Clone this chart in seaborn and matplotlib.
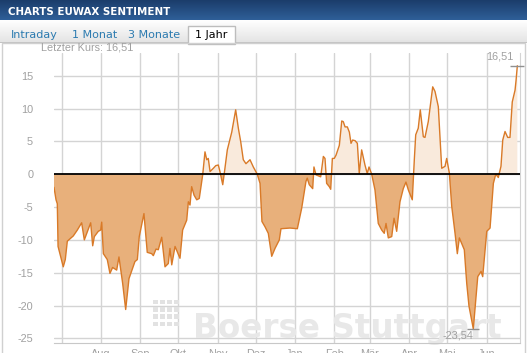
import numpy as np
import pandas as pd
import seaborn as sns
import matplotlib.pyplot as plt
import matplotlib.dates as mdates
from matplotlib.colors import LinearSegmentedColormap
from matplotlib.patches import Rectangle

# data: days after the first point, sentiment value
start = '2012-06-25'
day = [0.0, 1.6, 2.6, 3.2, 7.3, 8.9, 10.5, 15.2, 18.4, 21.8,
       23.9, 28.9, 30.5, 31.8, 34.9, 36.8, 37.6, 38.9, 42.0, 44.1,
       46.2, 49.4, 51.2, 54.1, 56.5, 59.1, 63.8, 65.7, 67.2, 70.9,
       73.5, 77.0, 78.3, 80.4, 82.2, 84.9, 87.5, 90.1, 91.4, 92.8,
       95.4, 99.3, 101.4, 104.6, 105.9, 107.2, 108.5, 110.4, 112.5, 114.5,
       117.2, 119.0, 120.4, 121.6, 123.0, 125.6, 127.5, 129.5, 130.8, 133.0,
       134.2, 136.6, 140.1, 143.2, 145.3, 147.2, 149.2, 151.3, 154.5, 157.1,
       160.2, 162.4, 163.9, 166.3, 168.9, 171.6, 174.2, 177.6, 178.9, 186.0,
       191.8, 195.2, 198.6, 199.6, 201.2, 203.9, 204.9, 206.5, 210.2, 212.3,
       213.6, 214.9, 217.0, 218.1, 219.4, 220.9, 222.3, 224.9, 226.8, 228.0,
       229.4, 231.2, 232.8, 234.1, 235.4, 237.3, 239.1, 240.6, 242.5, 245.1,
       246.9, 248.3, 250.4, 253.0, 255.6, 258.3, 260.3, 261.7, 263.5, 266.2,
       268.0, 270.1, 272.7, 275.3, 277.4, 279.3, 282.4, 284.0, 285.1, 287.1,
       288.7, 291.1, 292.4, 295.0, 298.5, 300.3, 302.9, 305.6, 308.2, 309.5,
       311.6, 313.5, 316.1, 317.9, 319.5, 323.4, 325.3, 327.1, 330.5, 334.0,
       336.6, 337.9, 341.1, 343.7, 346.3, 348.2, 350.2, 352.3, 353.7, 355.5,
       357.6, 359.4, 361.2, 363.4, 364.2, 365.2]
sentiment = [-2.0, -3.9, -4.5, -11.0, -14.1, -13.0, -10.2, -9.4, -8.5, -7.4,
             -10.0, -7.4, -10.9, -9.5, -8.7, -8.5, -7.3, -12.1, -13.0, -15.1,
             -14.2, -14.6, -12.6, -16.6, -20.6, -15.9, -13.3, -13.0, -9.5, -6.0,
             -11.9, -12.1, -12.4, -11.4, -11.5, -9.6, -14.1, -13.6, -11.3, -13.8,
             -11.0, -12.8, -8.5, -7.0, -4.2, -4.7, -1.9, -3.2, -3.9, -3.7,
             -0.1, 3.4, 2.2, 2.4, 0.4, 0.9, 1.3, 1.4, 0.4, -1.6,
             0.1, 3.7, 6.4, 9.8, 7.0, 4.9, 2.2, 1.6, 2.2, 1.1,
             0.0, -1.4, -7.2, -8.0, -9.0, -12.5, -11.3, -10.0, -8.3, -8.2,
             -8.3, -5.2, -1.1, -0.6, -1.6, -2.2, 1.1, -0.1, -0.4, 2.7,
             2.4, -1.4, -1.9, -2.3, 2.4, 2.4, 2.9, 4.4, 8.1, 8.0,
             7.2, 7.2, 6.4, 4.7, 5.2, 5.1, 4.7, 0.1, 3.7, 1.4,
             0.1, 1.1, 0.0, -2.4, -7.5, -8.5, -9.0, -7.5, -9.7, -9.5,
             -6.7, -8.7, -4.2, -2.2, -1.2, -2.4, -3.9, 2.2, 6.0, 7.0,
             9.8, 5.7, 5.6, 8.0, 13.3, 12.6, 10.3, 0.9, 1.2, 2.4,
             0.2, -4.9, -9.0, -12.1, -9.7, -11.5, -16.6, -20.1, -23.54, -15.6,
             -14.8, -15.6, -8.7, -8.2, -1.4, 0.0, -0.5, 1.2, 5.2, 6.5,
             5.6, 5.6, 11.0, 12.8, 14.3, 16.51]

month_starts = ['2012-07-01', '2012-08-01', '2012-09-01', '2012-10-01', '2012-11-01', '2012-12-01',
                '2013-01-01', '2013-02-01', '2013-03-01', '2013-04-01', '2013-05-01', '2013-06-01']
month_labels = ['', 'Aug', 'Sep', 'Okt', 'Nov', 'Dez', 'Jan', 'Feb', 'Mär', 'Apr', 'Mai', 'Jun']
y_ticks = [-25, -20, -15, -10, -5, 0, 5, 10, 15]
tabs = ['Intraday', '1 Monat', '3 Monate']
last_value = '16,51'
min_value = '-23,54'

dates = pd.Timestamp(start) + pd.to_timedelta(day, unit='D')
df = pd.DataFrame({'x': mdates.date2num(dates), 'v': sentiment})

sns.set_style('white')
W, H = 527, 353
fig = plt.figure(figsize=(W / 100, H / 100), dpi=100)
fig.patch.set_facecolor('white')

gray = '#a0a0a0'
font = 'Liberation Sans'

# header bar
hax = fig.add_axes([0, 1 - 20 / H, 1, 20 / H])
grad = np.linspace(0, 1, 50).reshape(-1, 1)
hax.imshow(grad, aspect='auto', extent=[0, 1, 0, 1],
           cmap=LinearSegmentedColormap.from_list('h', ['#1b3d6b', '#2f5f98']))
hax.axis('off')
fig.text(8 / W, 1 - 12 / H, 'CHARTS EUWAX SENTIMENT', color='white', fontsize=7.4,
         fontweight='bold', family='DejaVu Sans', va='center')

# tab bar
tax = fig.add_axes([0, 1 - 43 / H, 1, 23 / H])
tax.imshow(grad, aspect='auto', extent=[0, 1, 0, 1],
           cmap=LinearSegmentedColormap.from_list('t', ['#ffffff', '#e3e3e3']))
tax.axhline(0.02, color='#bdbdbd', lw=1.2)
tax.axis('off')
for label, xp in zip(tabs, [11, 72, 128]):
    fig.text(xp / W, 1 - 34.5 / H, label, color='#2c7bb0', fontsize=8, family='DejaVu Sans', va='center')
fig.patches.append(Rectangle((188 / W, 1 - 43.5 / H), 47 / W, 17.5 / H, transform=fig.transFigure,
                             facecolor='white', edgecolor='#bdbdbd', lw=1, zorder=2))
fig.text(195 / W, 1 - 34.5 / H, '1 Jahr', color='black', fontsize=8, family='DejaVu Sans',
         va='center', zorder=3)

# panel border
fig.patches.append(Rectangle((2 / W, -0.01), 523 / W, 1 - 43 / H + 0.01, transform=fig.transFigure,
                             facecolor='none', edgecolor='#d0d0d0', lw=1, zorder=2))

fig.text(41 / W, 1 - 48 / H, 'Letzter Kurs: ' + last_value, color=gray, fontsize=7.8,
         family=font, va='center')

# chart
ax = fig.add_axes([54 / W, 1 - 343 / H, (520 - 54) / W, (343 - 53) / H])
x = df['x'].to_numpy()
v = df['v'].to_numpy()
ax.fill_between(x, v, 0, where=v >= 0, interpolate=True, color='#f9eadc', lw=0, zorder=2)
ax.fill_between(x, v, 0, where=v <= 0, interpolate=True, color='#e8b07b', lw=0, zorder=2)
sns.lineplot(data=df, x='x', y='v', ax=ax, color='#d97a28', lw=1, sort=False, zorder=3)
ax.axhline(0, color='black', lw=1.3, zorder=4)

x0 = mdates.date2num(pd.Timestamp(start))
ax.set_xlim(x0, x0 + 367.3)
ax.set_ylim(-25.7, 18.45)
ax.set_yticks(y_ticks)
ax.set_yticklabels([str(t) for t in y_ticks])
ax.set_xticks(mdates.date2num(pd.to_datetime(month_starts)))
ax.set_xticklabels(month_labels)
ax.grid(True, color='#d4d4d4', lw=1, zorder=0)
ax.set_axisbelow(True)
ax.tick_params(axis='y', length=0, pad=15, labelsize=7.8, labelcolor=gray)
ax.tick_params(axis='x', length=4, width=1, color='#c8c8c8', pad=0.5, labelsize=7.8, labelcolor=gray)
for t in ax.get_xticklabels() + ax.get_yticklabels():
    t.set_family(font)
for s in ['top', 'left']:
    ax.spines[s].set_visible(False)
ax.spines['bottom'].set_color('#c8c8c8')
ax.spines['right'].set_color('#d4d4d4')
ax.set_xlabel('')
ax.set_ylabel('')

# watermark
ax.text(0.299, 0.017, 'Boerse Stuttgart', transform=ax.transAxes, fontsize=23.5, fontweight='bold',
        family='DejaVu Sans', color='#e8e8e8', zorder=1, va='baseline')
for i in range(4):
    for j in range(4):
        ax.add_patch(Rectangle((0.213 + i * 0.015, 0.058 + j * 0.025), 0.01, 0.016,
                               transform=ax.transAxes, color='#e2e2e2', lw=0, zorder=1))

# max / min markers
imax = int(np.argmax(v))
imin = int(np.argmin(v))
ax.plot(x[imax], v[imax], marker='_', ms=10, mew=1, color='#909090', zorder=5, clip_on=False)
ax.annotate(last_value, (x[imax], v[imax]), xytext=(-3, 3), textcoords='offset points',
            ha='right', va='bottom', color=gray, fontsize=7.8, family=font)
ax.plot(x[imin], v[imin], marker='_', ms=8, mew=1, color='#909090', zorder=5)
ax.annotate(min_value, (x[imin], v[imin]), xytext=(0, -1.5), textcoords='offset points',
            ha='right', va='top', color=gray, fontsize=7.8, family=font)

fig.savefig('out.png', dpi=100)
